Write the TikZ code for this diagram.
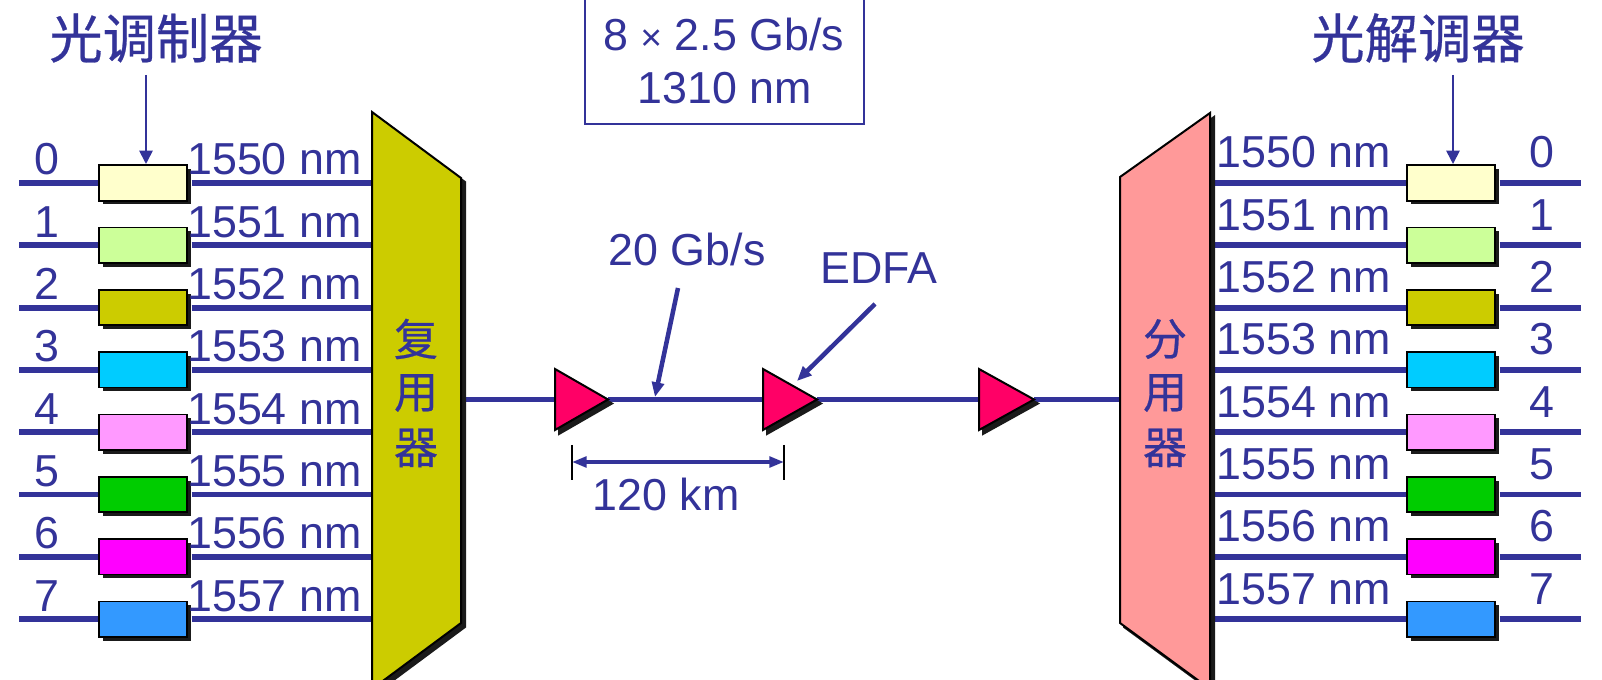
\documentclass[tikz,border=0pt]{standalone}
\usepackage{fontspec}
\setmainfont{Liberation Sans}
\newfontfamily\cjkfont{Noto Sans CJK SC}[FakeBold=0.5]
\usetikzlibrary{arrows.meta,shadows}
\definecolor{ink}{HTML}{333399}
\definecolor{c0}{HTML}{FFFFCC}
\definecolor{c1}{HTML}{CCFF99}
\definecolor{c2}{HTML}{CCCC00}
\definecolor{c3}{HTML}{00CCFF}
\definecolor{c4}{HTML}{FF99FF}
\definecolor{c5}{HTML}{00CC00}
\definecolor{c6}{HTML}{FF00FF}
\definecolor{c7}{HTML}{3399FF}
\definecolor{demuxpink}{HTML}{FF9999}
\definecolor{amppink}{HTML}{FF0066}
\definecolor{shadowcol}{HTML}{1A1A1A}
\tikzset{
  fibre/.style={draw=ink,line width=4.4pt},
  lbl/.style={inner sep=0pt,text=ink,font=\fontsize{33.6}{38}\selectfont},
  lblw/.style={lbl,anchor=base west},
  lblc/.style={lbl,anchor=base},
  cjk/.style={inner sep=0pt,text=ink,font=\fontsize{33}{38}\selectfont\cjkfont},
  cjkbig/.style={inner sep=0pt,text=ink,font=\fontsize{40}{44}\selectfont\cjkfont},
  modbox/.style={draw=black,line width=1.3pt,minimum width=66pt,minimum height=26.5pt,inner sep=0pt,
    drop shadow={shadow xshift=2.8pt,shadow yshift=-2.8pt,opacity=1,fill=shadowcol}},
  solid black/.style={draw=black,line width=1.5pt,line join=miter},
  backshadow/.style={fill=shadowcol,draw=shadowcol,line width=1.5pt},
  thinarrow/.style={draw=ink,line width=1.3pt,-{Triangle[length=10pt,width=10pt]}},
  midarrow/.style={draw=ink,line width=3.4pt,-{Triangle[length=11pt,width=9pt]}},
  dimarrow/.style={draw=ink,line width=2.6pt,{Triangle[length=11pt,width=8pt]}-{Triangle[length=11pt,width=8pt]}},
  dimtick/.style={draw=black,line width=1.3pt},
}
\begin{document}
\begin{tikzpicture}[x=0.75pt,y=-0.75pt]
\useasboundingbox (0,0) rectangle (1602,680);
\clip (0,0) rectangle (1602,680);

% main fibre
\coordinate (mr) at (461,399.5);
\coordinate (t1w) at (555,399.5); \coordinate (t1e) at (608,399.5);
\coordinate (t2w) at (763,399.5); \coordinate (t2e) at (817,399.5);
\coordinate (t3w) at (979,399.5); \coordinate (t3e) at (1034,399.5);
\coordinate (dl) at (1120,399.5);
\draw[fibre] (mr)--(t1w) (t1e)--(t2w) (t2e)--(t3w) (t3e)--(dl);

% channel rows
\foreach \i/\wl/\col in {0/1550/c0,1/1551/c1,2/1552/c2,3/1553/c3,4/1554/c4,5/1555/c5,6/1556/c6,7/1557/c7}{
  \pgfmathsetmacro{\ry}{183+62.3*\i}
  \pgfmathsetmacro{\lb}{175+62.3*\i}
  \pgfmathsetmacro{\rb}{168+62.3*\i}
  \coordinate (ls\i) at (19,\ry);
  \coordinate (le\i) at (372,\ry);
  \coordinate (rs\i) at (1210,\ry);
  \coordinate (re\i) at (1581,\ry);
  \node[modbox,fill=\col] (lm\i) at (143,\ry) {};
  \node[modbox,fill=\col] (rm\i) at (1451,\ry) {};
  \node[lblc] (ln\i) at (47,\lb) {\i};
  \node[lblw] (lw\i) at (187,\lb) {\wl\ nm};
  \node[lblw] (rw\i) at (1216,\rb) {\wl\ nm};
  \node[lblc] (rn\i) at (1542,\rb) {\i};
  \draw[fibre] (ls\i)--(lm\i.west) ([xshift=2.8pt]lm\i.east)--(le\i);
  \draw[fibre] (rs\i)--(rm\i.west) ([xshift=2.8pt]rm\i.east)--(re\i);
}

% multiplexer
\path[backshadow,xshift=3pt,yshift=-3pt] (372,112)--(461,178)--(461,623)--(372,689)--cycle;
\draw[solid black,fill=c2] (372,112)--(461,178)--(461,623)--(372,689)--cycle;
% demultiplexer
\path[backshadow,xshift=3pt,yshift=-3pt] (1210,113)--(1120,177)--(1120,623)--(1210,689)--cycle;
\draw[solid black,fill=demuxpink] (1210,113)--(1120,177)--(1120,623)--(1210,689)--cycle;

\node[cjk] (mux1) at (416,339) {复};
\node[cjk] (mux2) at (416,393) {用};
\node[cjk] (mux3) at (416,448) {器};
\node[cjk] (dem1) at (1165,339) {分};
\node[cjk] (dem2) at (1165,393) {用};
\node[cjk] (dem3) at (1165,448) {器};

% amplifiers
\foreach \n/\x/\t in {1/555/608,2/763/817,3/979/1034}{
  \path[backshadow,xshift=3pt,yshift=-3pt] (\x,369)--(\t,399.5)--(\x,430)--cycle;
  \draw[solid black,fill=amppink] (\x,369)--(\t,399.5)--(\x,430)--cycle;
}

% headings
\node[cjkbig] (modh) at (156,38) {光调制器};
\node[cjkbig] (demh) at (1418,38) {光解调器};
\coordinate (ma0) at (146,75); \coordinate (ma1) at (146,164);
\coordinate (da0) at (1453,75); \coordinate (da1) at (1453,164);
\draw[thinarrow] (ma0)--(ma1);
\draw[thinarrow] (da0)--(da1);

% wavelength box
\coordinate (b0) at (585,-5); \coordinate (b1) at (864,124);
\draw[draw=ink,line width=1.1pt] (b0) rectangle (b1);
\node[lblc] (ratea) at (723.5,51) {8 {\fontsize{28}{28}\selectfont ×} 2.5 Gb/s};
\node[lblc] (rateb) at (724.5,104) {1310 nm};

% middle labels
\node[lblc] (gb) at (687,266) {20 Gb/s};
\node[lblc] (edfa) at (879,284) {EDFA};
\node[lblc] (km) at (666,510) {120 km};
\coordinate (g0) at (678,288); \coordinate (g1) at (655,397);
\coordinate (e0) at (875,304); \coordinate (e1) at (797,381);
\draw[midarrow] (g0)--(g1);
\draw[midarrow] (e0)--(e1);

% span
\coordinate (d0t) at (572,445); \coordinate (d0b) at (572,480);
\coordinate (d1t) at (784,445); \coordinate (d1b) at (784,480);
\coordinate (dl0) at (572,462); \coordinate (dl1) at (784,462);
\draw[dimtick] (d0t)--(d0b);
\draw[dimtick] (d1t)--(d1b);
\draw[dimarrow] (dl0)--(dl1);
\end{tikzpicture}
\end{document}
